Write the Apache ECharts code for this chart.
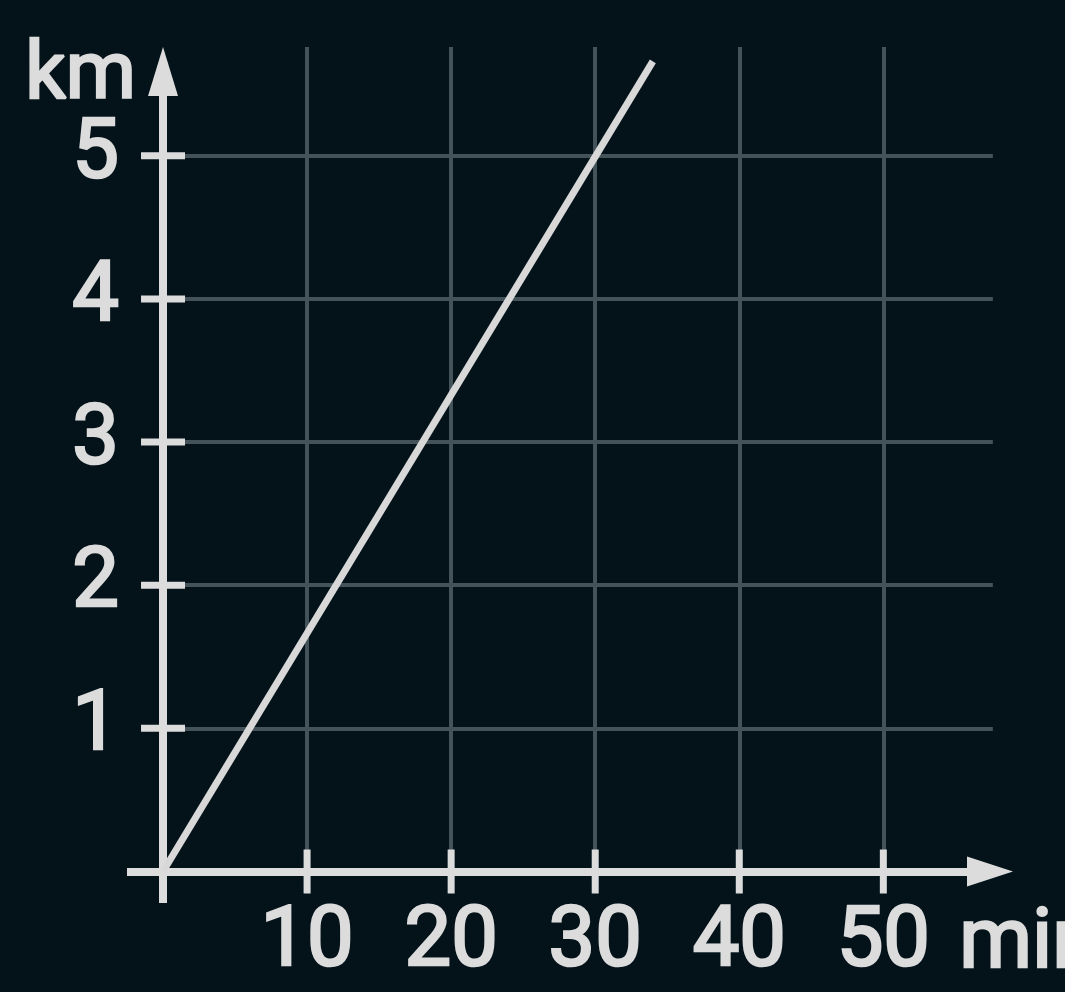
<!DOCTYPE html>
<html>
<head>
<meta charset="utf-8">
<script src="https://cdn.jsdelivr.net/npm/echarts@6/dist/echarts.min.js"></script>
<style>
html,body{margin:0;padding:0;background:#04131a;}
#c{width:1065px;height:992px;}
</style>
</head>
<body>
<div id="c"></div>
<script>
// ---- data ----
const xTicks = [10, 20, 30, 40, 50];          // minutes
const yTicks = [1, 2, 3, 4, 5];               // km
const distanceLine = [[0, 0], [34, 5.66]];    // time (min) vs distance (km)
const xName = 'min';
const yName = 'km';
// axis drawing extents (in data units)
const xStart = -2.5, xGridEnd = 57.6, xArrowTip = 59.0;
const yStart = -0.22, yGridEnd = 5.76, yArrowTip = 5.76;

const fg = '#dcdcdc';
const gridColor = '#44525a';
const font = 'Roboto, "Noto Sans", sans-serif';
const weight = 400;
const thick = 2.6;

const gridLines = [];
xTicks.forEach(v => gridLines.push([{coord: [v, 0]}, {coord: [v, yGridEnd]}]));
yTicks.forEach(v => gridLines.push([{coord: [0, v]}, {coord: [xGridEnd, v]}]));

const axisLines = [
  [{coord: [xStart, 0]}, {coord: [xGridEnd, 0]}],
  [{coord: [0, yStart]}, {coord: [0, yArrowTip - 0.3]}]
];

const solid = {color: fg, opacity: 1};

const chart = echarts.init(document.getElementById('c'), null, {renderer: 'canvas'});
chart.setOption({
  backgroundColor: '#04131a',
  animation: false,
  grid: {left: 127, right: 52, top: 47, bottom: 89},
  xAxis: {
    type: 'value', min: xStart, max: xArrowTip,
    axisLine: {show: false}, axisTick: {show: false}, splitLine: {show: false},
    axisLabel: {
      customValues: xTicks, color: fg, fontSize: 83, fontFamily: font, fontWeight: weight,
      textBorderColor: fg, textBorderWidth: thick,
      margin: 0
    }
  },
  yAxis: {
    type: 'value', min: yStart, max: yGridEnd,
    axisLine: {show: false}, axisTick: {show: false}, splitLine: {show: false},
    axisLabel: {
      customValues: yTicks, color: fg, fontSize: 83, fontFamily: font, fontWeight: weight,
      textBorderColor: fg, textBorderWidth: thick,
      margin: 8
    }
  },
  series: [
    {
      type: 'line', data: [], silent: true, z: 1,
      markLine: {
        silent: true, z: 1, symbol: ['none', 'none'], label: {show: false},
        lineStyle: {color: gridColor, width: 4, type: 'solid', opacity: 1},
        emphasis: {disabled: true},
        data: gridLines
      }
    },
    {
      type: 'line', data: [], silent: true, z: 3,
      markLine: {
        silent: true, z: 3, symbol: ['none', 'none'], label: {show: false},
        lineStyle: {color: fg, width: 8, type: 'solid', opacity: 1},
        emphasis: {disabled: true},
        data: axisLines
      }
    },
    {
      type: 'scatter', silent: true, z: 4,
      symbol: 'rect', symbolSize: [7, 44],
      itemStyle: solid,
      data: xTicks.map(v => [v, 0])
    },
    {
      type: 'scatter', silent: true, z: 4,
      symbol: 'rect', symbolSize: [44, 7],
      itemStyle: solid,
      data: yTicks.map(v => [0, v])
    },
    {
      type: 'scatter', silent: true, z: 4,
      symbol: 'triangle', symbolSize: [30, 49], symbolOffset: [0, 24.5],
      itemStyle: solid,
      data: [[0, yArrowTip]]
    },
    {
      type: 'scatter', silent: true, z: 4,
      symbol: 'triangle', symbolSize: [30, 46], symbolRotate: -90, symbolOffset: [-23, 0],
      itemStyle: solid,
      data: [[xArrowTip, 0]]
    },
    {
      type: 'line', silent: true, z: 5,
      data: distanceLine, showSymbol: false, symbol: 'none',
      lineStyle: {color: '#d8d8d8', width: 7, cap: 'butt', opacity: 1}
    }
  ],
  graphic: [
    {type: 'text', left: 24, top: 37, z: 10,
     style: {text: yName, fill: fg, stroke: fg, lineWidth: thick, font: weight + ' 80px ' + font}},
    {type: 'text', left: 958, top: 903, z: 10,
     style: {text: xName, fill: fg, stroke: fg, lineWidth: thick, font: weight + ' 83px ' + font}}
  ]
});
</script>
</body>
</html>
